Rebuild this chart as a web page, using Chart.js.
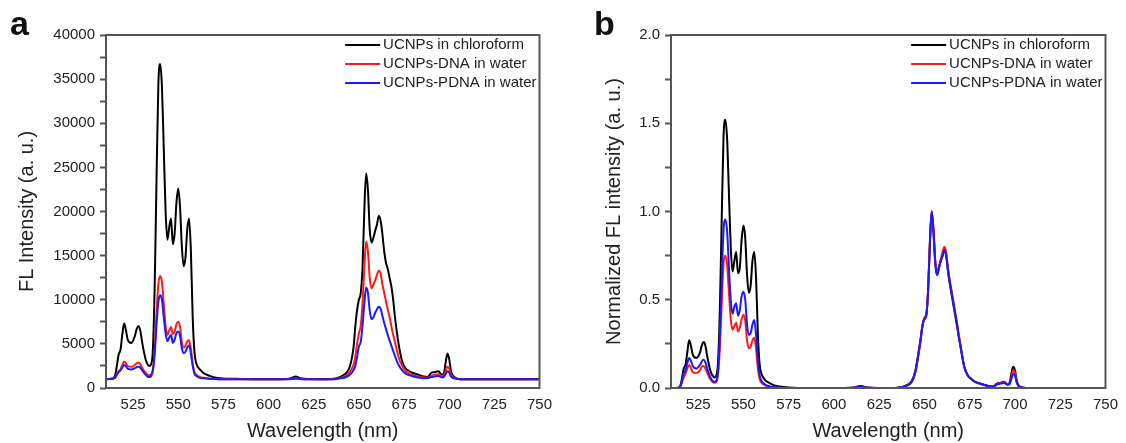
<!DOCTYPE html>
<html>
<head>
<meta charset="utf-8">
<script src="https://cdn.jsdelivr.net/npm/chart.js@4.4.1/dist/chart.umd.min.js"></script>
<style>
  body { margin: 0; background: #fff; width: 1126px; height: 443px; position: relative; overflow: hidden; font-family: "Liberation Sans", Arial, sans-serif; }
  .panel { position: absolute; top: 0; }
  .tag { position: absolute; top: 6px; font-weight: bold; font-size: 34px; line-height: 34px; color: #111; }
</style>
</head>
<body>
<canvas id="chartA" class="panel" style="left:0" width="560" height="443"></canvas>
<canvas id="chartB" class="panel" style="left:560px" width="566" height="443"></canvas>
<div class="tag" style="left:10px">a</div>
<div class="tag" style="left:594px">b</div>
<script>
// wavelength grid (nm) shared by all curves
const wavelength = [
  510, 513, 515, 516, 517, 518, 519, 520, 521, 522,
  524, 526, 527, 528, 529, 530,
  532, 533, 534, 535, 536, 537, 538, 539, 540, 541, 542, 543, 544, 545, 546, 547, 548, 549, 550, 551, 552, 553, 554, 555, 556, 557, 558, 559, 560,
  562, 564, 567, 570, 575, 585, 600, 610, 613, 615, 617, 620, 630, 636, 640, 643, 645,
  647, 648, 649, 650, 651, 652, 653, 654, 655, 656, 657, 658, 659, 660, 661, 662, 663, 664, 665, 666, 667, 668, 669, 670,
  672, 674, 676, 678, 680, 683, 686, 688, 690, 692, 694, 696,
  697, 698, 699, 700, 701, 702,
  704, 706, 710, 720, 735, 750
];

// panel a: raw FL intensity
const chloroformA = [
  1000, 1050, 1400, 2500, 3800, 4300, 6000, 7300, 6600, 5500,
  5100, 5900, 6700, 7000, 6500, 5200,
  3200, 2700, 2500, 2700, 4500, 12000, 24000, 34500, 36700, 34000, 27000, 20000, 16800, 18200, 19200, 16300, 17500, 21000, 22600, 20500, 16000, 13800, 14800, 18000, 19200, 15500, 8000, 4000, 2800,
  2100, 1700, 1400, 1200, 1080, 1030, 1000, 1030, 1150, 1300, 1150, 1050, 1000, 1050, 1300, 1700, 2400,
  4500, 6900, 8800, 10000, 10700, 13500, 20000, 24300, 22500, 18000, 16500, 17000, 17800, 18500, 19500, 19000, 17500, 15500, 14200, 13500, 12500, 11500, 10000, 8000,
  5000, 3000, 2200, 1900, 1700, 1500, 1300, 1250, 1700, 1800, 1900, 1500,
  1600, 2800, 3900, 3300, 1900, 1400,
  1100, 1000, 1000, 1000, 1000, 1000
];
const dnaA = [
  1000, 1050, 1200, 1600, 1900, 2100, 2600, 3000, 2800, 2500,
  2400, 2600, 2800, 2900, 2700, 2300,
  1700, 1500, 1450, 1550, 2200, 4500, 8500, 11800, 12700, 12000, 9500, 7000, 6000, 6500, 6900, 6100, 6400, 7200, 7500, 6900, 5200, 4600, 4800, 5300, 5400, 4400, 2800, 1800, 1500,
  1250, 1150, 1080, 1030, 1000, 1000, 1000, 1000, 1050, 1100, 1050, 1000, 1000, 1000, 1150, 1400, 1800,
  2600, 3500, 5000, 6200, 7000, 9500, 13500, 16600, 15500, 12500, 11300, 11700, 12200, 12800, 13300, 13000, 11800, 10800, 9800, 8900, 8000, 7000, 6000, 5200,
  3500, 2500, 1900, 1600, 1450, 1300, 1200, 1150, 1400, 1500, 1550, 1350,
  1400, 1900, 2400, 2200, 1500, 1250,
  1050, 1000, 1000, 1000, 1000, 1000
];
const pdnaA = [
  1000, 1050, 1150, 1500, 1800, 2000, 2300, 2600, 2450, 2200,
  2100, 2250, 2350, 2400, 2300, 2000,
  1500, 1300, 1250, 1350, 2000, 4000, 7200, 9800, 10500, 10000, 8000, 6200, 5300, 5700, 6000, 5100, 5500, 6200, 6400, 5900, 4500, 3950, 4100, 4600, 4850, 3900, 2500, 1600, 1350,
  1150, 1100, 1050, 1020, 1000, 1000, 1000, 1000, 1020, 1060, 1020, 1000, 1000, 1000, 1100, 1250, 1500,
  2000, 2500, 3500, 4700, 5200, 7000, 9500, 11400, 10800, 8800, 7800, 8000, 8500, 8900, 9200, 9000, 8200, 7400, 6700, 6000, 5400, 4800, 4200, 3600,
  2600, 2000, 1600, 1450, 1300, 1200, 1100, 1100, 1250, 1300, 1350, 1200,
  1250, 1550, 1900, 1750, 1300, 1150,
  1050, 1000, 1000, 1000, 1000, 1000
];

// panel b: normalized FL intensity
const chloroformB = [
  0, 0, 0.01, 0.05, 0.11, 0.13, 0.2, 0.27, 0.24, 0.19,
  0.17, 0.2, 0.24, 0.26, 0.24, 0.18,
  0.09, 0.07, 0.06, 0.07, 0.15, 0.45, 0.95, 1.42, 1.52, 1.41, 1.1, 0.8, 0.66, 0.72, 0.77, 0.65, 0.68, 0.84, 0.92, 0.85, 0.64, 0.54, 0.58, 0.72, 0.77, 0.62, 0.3, 0.13, 0.08,
  0.045, 0.03, 0.015, 0.008, 0.003, 0, 0, 0.002, 0.008, 0.012, 0.006, 0.002, 0, 0.003, 0.015, 0.04, 0.1,
  0.22, 0.29, 0.36, 0.39, 0.41, 0.55, 0.82, 1.0, 0.88, 0.7, 0.64, 0.68, 0.72, 0.75, 0.79, 0.75, 0.66, 0.59, 0.53, 0.47, 0.41, 0.35, 0.29, 0.23,
  0.12, 0.07, 0.05, 0.035, 0.028, 0.018, 0.01, 0.008, 0.025, 0.03, 0.035, 0.02,
  0.03, 0.08, 0.12, 0.1, 0.04, 0.015,
  0.004, 0, 0, 0, 0, 0
];
const dnaB = [
  0, 0, 0.005, 0.03, 0.06, 0.08, 0.11, 0.13, 0.115, 0.09,
  0.085, 0.1, 0.12, 0.125, 0.11, 0.085,
  0.045, 0.035, 0.03, 0.035, 0.08, 0.23, 0.47, 0.7, 0.75, 0.7, 0.54, 0.39, 0.33, 0.35, 0.37, 0.32, 0.34, 0.39, 0.415, 0.38, 0.27, 0.225, 0.235, 0.27, 0.285, 0.22, 0.11, 0.05, 0.03,
  0.015, 0.008, 0.003, 0.001, 0, 0, 0, 0.001, 0.004, 0.006, 0.004, 0.001, 0, 0.002, 0.012, 0.035, 0.09,
  0.21, 0.28, 0.36, 0.4, 0.42, 0.55, 0.82, 1.0, 0.9, 0.72, 0.66, 0.69, 0.73, 0.77, 0.8, 0.77, 0.68, 0.61, 0.55, 0.49, 0.43, 0.37, 0.3, 0.24,
  0.12, 0.07, 0.05, 0.035, 0.027, 0.017, 0.01, 0.008, 0.022, 0.028, 0.032, 0.02,
  0.025, 0.06, 0.1, 0.085, 0.035, 0.012,
  0.003, 0, 0, 0, 0, 0
];
const pdnaB = [
  0, 0, 0.006, 0.04, 0.08, 0.1, 0.14, 0.17, 0.155, 0.125,
  0.11, 0.13, 0.15, 0.16, 0.145, 0.11,
  0.055, 0.04, 0.035, 0.04, 0.1, 0.3, 0.6, 0.89, 0.955, 0.89, 0.68, 0.5, 0.42, 0.46, 0.48, 0.41, 0.44, 0.52, 0.545, 0.5, 0.36, 0.3, 0.31, 0.36, 0.385, 0.3, 0.15, 0.07, 0.04,
  0.02, 0.01, 0.004, 0.002, 0, 0, 0, 0.001, 0.004, 0.007, 0.004, 0.001, 0, 0.002, 0.012, 0.035, 0.09,
  0.21, 0.28, 0.36, 0.39, 0.41, 0.55, 0.82, 1.0, 0.89, 0.71, 0.64, 0.68, 0.72, 0.75, 0.78, 0.75, 0.67, 0.6, 0.54, 0.48, 0.42, 0.36, 0.29, 0.23,
  0.12, 0.07, 0.05, 0.035, 0.027, 0.017, 0.01, 0.008, 0.02, 0.025, 0.028, 0.018,
  0.022, 0.05, 0.08, 0.07, 0.03, 0.01,
  0.002, 0, 0, 0, 0, 0
];

const seriesNames = ['UCNPs in chloroform', 'UCNPs-DNA in water', 'UCNPs-PDNA in water'];
const seriesColors = ['#000000', '#ff1a1a', '#1a1aff'];

Chart.defaults.font.family = '"Liberation Sans", Arial, sans-serif';
Chart.defaults.color = '#222';

// box around the plot area + legend in the top right corner
const frameAndLegend = {
  id: 'frameAndLegend',
  afterDatasetsDraw(chart) {
    const { ctx, chartArea: a } = chart;
    ctx.save();
    ctx.strokeStyle = '#555';
    ctx.lineWidth = 2;
    ctx.strokeRect(a.left, a.top, a.right - a.left, a.bottom - a.top);
    ctx.font = '15px "Liberation Sans", Arial, sans-serif';
    ctx.textBaseline = 'middle';
    const w = Math.max(...chart.data.datasets.map(d => ctx.measureText(d.label).width));
    const tx = a.right - 3 - w;
    chart.data.datasets.forEach((d, i) => {
      const y = a.top + 10 + i * 19;
      ctx.strokeStyle = d.borderColor;
      ctx.beginPath();
      ctx.moveTo(tx - 38, y);
      ctx.lineTo(tx - 3, y);
      ctx.stroke();
      ctx.fillStyle = '#222';
      ctx.fillText(d.label, tx, y);
    });
    ctx.restore();
  }
};

function makeChart(id, series, yOpts) {
  return new Chart(document.getElementById(id), {
    type: 'line',
    data: {
      datasets: series.map((vals, i) => ({
        label: seriesNames[i],
        data: wavelength.map((w, j) => ({ x: w, y: vals[j] })),
        borderColor: seriesColors[i],
        borderWidth: 2,
        pointRadius: 0,
        cubicInterpolationMode: 'monotone',
        order: 2 - i
      }))
    },
    options: {
      responsive: false,
      animation: false,
      layout: { padding: { left: 0, top: 35, right: yOpts.padRight, bottom: 0 } },
      plugins: { legend: { display: false }, tooltip: { enabled: false } },
      scales: {
        x: {
          type: 'linear', min: 510, max: 750,
          ticks: { stepSize: 25, includeBounds: false, padding: 8, color: '#222', font: { size: 15 } },
          grid: { display: false, drawTicks: false },
          border: { display: false },
          title: { display: true, text: 'Wavelength (nm)', color: '#222', font: { size: 20 }, padding: { top: 4, bottom: 0 } },
          afterFit: s => { s.height = 55; }
        },
        y: {
          min: 0, max: yOpts.max,
          ticks: { stepSize: yOpts.step, padding: 5, color: '#222', font: { size: 15 }, callback: yOpts.label },
          grid: { display: true, drawOnChartArea: false, drawTicks: true, tickLength: 6, tickWidth: 2, tickColor: '#555' },
          border: { display: false },
          title: { display: true, text: yOpts.title, color: '#222', font: { size: 20 }, padding: { top: yOpts.titlePad, bottom: 0 } },
          afterFit: s => { s.width = yOpts.width; }
        }
      }
    },
    plugins: [frameAndLegend]
  });
}

makeChart('chartA', [chloroformA, dnaA, pdnaA], {
  max: 40000, step: 2500, width: 106, padRight: 16, titlePad: 15,
  title: 'FL Intensity (a. u.)',
  label: v => (v % 5000 === 0 ? String(v) : '')
});

makeChart('chartB', [chloroformB, dnaB, pdnaB], {
  max: 2.0, step: 0.25, width: 111, padRight: 15, titlePad: 42,
  title: 'Normalized FL intensity (a. u.)',
  label: v => (Math.round(v * 100) % 50 === 0 ? v.toFixed(1) : '')
});
</script>
</body>
</html>
